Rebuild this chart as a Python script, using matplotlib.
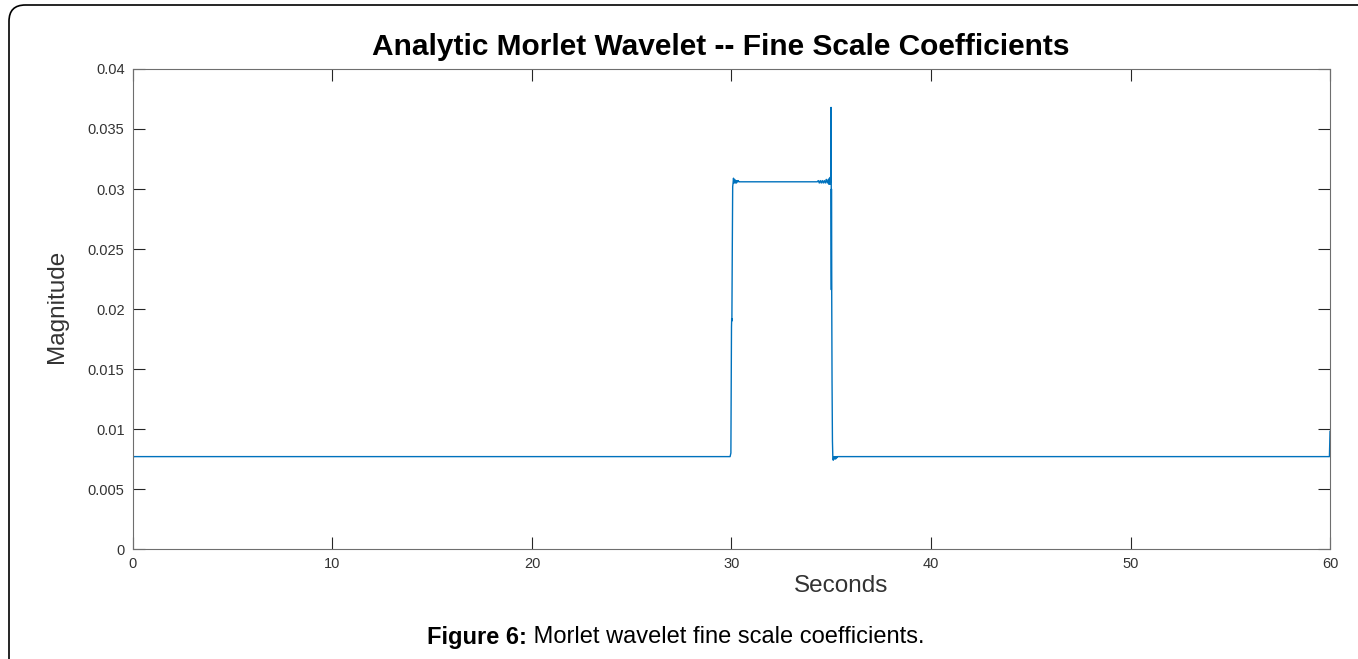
import matplotlib
matplotlib.use("Agg")
import matplotlib.pyplot as plt
from matplotlib.patches import FancyBboxPatch
import numpy as np

plt.rcParams["font.family"] = ["Liberation Sans", "DejaVu Sans"]

# fine-scale CWT magnitude, sampled at the break points of the trace
t_sec = [0.0, 0.01, 0.03,
         29.93, 29.97, 30.0, 30.01, 30.02, 30.04, 30.06, 30.08,
         30.1, 30.13, 30.16, 30.19, 30.22, 30.25, 30.28, 30.31, 30.34, 30.37, 30.4,
         34.3, 34.35, 34.4, 34.45, 34.5, 34.55, 34.6, 34.65, 34.7, 34.75, 34.8,
         34.85, 34.88, 34.91, 34.94, 34.96, 34.98,
         34.99, 35.0, 35.005, 35.01, 35.02, 35.04, 35.06, 35.08,
         35.1, 35.13, 35.16, 35.19, 35.22, 35.25, 35.28, 35.31, 35.35,
         59.97, 60.0]
magnitude = [0.0048, 0.0075, 0.0077,
             0.0077, 0.0080, 0.0185, 0.0192, 0.0190, 0.0250, 0.0302, 0.0305,
             0.0309, 0.0305, 0.0308, 0.0305, 0.0307, 0.0305, 0.0307, 0.0306, 0.0307, 0.0306, 0.0306,
             0.0306, 0.0307, 0.0305, 0.0307, 0.0305, 0.0307, 0.0305, 0.0307, 0.0305, 0.0308, 0.0305,
             0.0308, 0.0304, 0.0309, 0.0304, 0.0310, 0.0306,
             0.0368, 0.0312, 0.0216, 0.0300, 0.0230, 0.0140, 0.0090, 0.0076,
             0.0074, 0.0077, 0.0075, 0.0077, 0.0075, 0.0077, 0.0076, 0.0077, 0.0077,
             0.0077, 0.0098]

x_ticks = [0, 10, 20, 30, 40, 50, 60]
y_ticks = [0, 0.005, 0.01, 0.015, 0.02, 0.025, 0.03, 0.035, 0.04]
y_labels = ["0", "0.005", "0.01", "0.015", "0.02", "0.025", "0.03", "0.035", "0.04"]

fig = plt.figure(figsize=(13.58, 6.59), dpi=100)
ax = fig.add_axes([0.0979, 0.1669, 0.8815, 0.7284])

ax.plot(t_sec, magnitude, color="#0072BD", lw=1.0)
ax.set_xlim(0, 60)
ax.set_ylim(0, 0.04)
ax.set_xticks(x_ticks)
ax.set_yticks(y_ticks)
ax.set_yticklabels(y_labels)
ax.tick_params(direction="in", length=8.5, width=0.8, colors="#262626",
               labelcolor="#333333", labelsize=10.5, top=True, right=True, pad=6)
for s in ax.spines.values():
    s.set_color("#6e6e6e"); s.set_linewidth(0.8)

fig.text(0.531, 0.929, "Analytic Morlet Wavelet -- Fine Scale Coefficients",
         ha="center", va="center", fontsize=21.5, fontweight="bold")
fig.text(0.619, 0.111, "Seconds", ha="center", va="center", fontsize=17.5, color="#333333")
fig.text(0.042, 0.535, "Magnitude", ha="center", va="center", rotation=90,
         fontsize=17.5, color="#333333")

# caption: bold label followed by regular text
cap_y = 0.033
lab = fig.text(0.0, cap_y, "Figure 6:", ha="left", va="center", fontsize=17, fontweight="bold")
rest = fig.text(0.0, cap_y, " Morlet wavelet fine scale coefficients.", ha="left", va="center", fontsize=17)
fig.canvas.draw()
r = fig.canvas.get_renderer()
w1 = lab.get_window_extent(r).width
w2 = rest.get_window_extent(r).width
x0 = (676 - (w1 + w2) / 2) / fig.bbox.width
lab.set_x(x0)
rest.set_x(x0 + w1 / fig.bbox.width)

# page frame, open at the right and bottom
frame = FancyBboxPatch((9 / 1358, -0.2), 1.5, 1.2 - 5 / 659,
                       boxstyle="round,pad=0,rounding_size=0.012",
                       transform=fig.transFigure, fill=False, ec="black", lw=1.2,
                       mutation_aspect=1358 / 659)
fig.patches.append(frame)

fig.savefig("out.png", dpi=100)
